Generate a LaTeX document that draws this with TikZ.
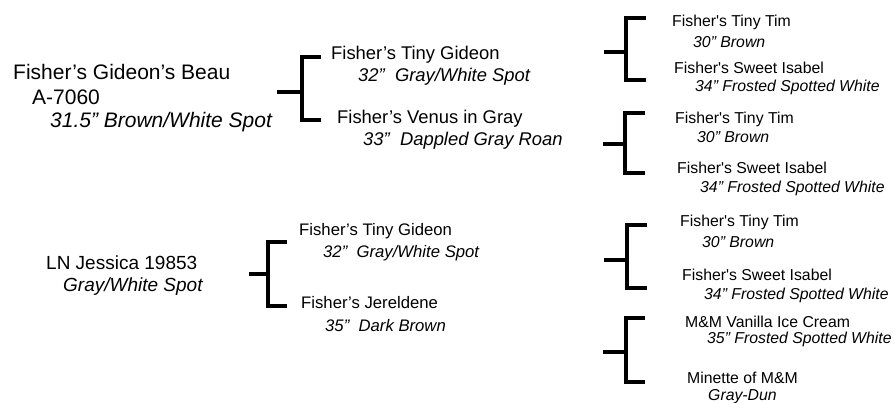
\documentclass[tikz,border=0pt]{standalone}
\usepackage{fontspec}
\setmainfont{Liberation Sans}
\tikzset{
    bar/.style={line width=3.6pt},
    horse/.style={anchor=west,inner sep=0pt},
    genA/.style={horse,font=\fontsize{21}{25}\selectfont},
    genB/.style={horse,font=\fontsize{19}{23}\selectfont},
    genC/.style={horse,font=\fontsize{18.4}{22}\selectfont},
    genD/.style={horse,font=\fontsize{16.7}{20}\selectfont},
    genE/.style={horse,font=\fontsize{15.8}{19}\selectfont},
    col/.style={execute at begin node=\itshape}
}
\newcommand{\pedbracket}[7]{%
    \coordinate (#1s) at (#2,#7);
    \coordinate (#1v) at (#3,#7);
    \coordinate (#1t) at (#4,#5);
    \coordinate (#1b) at (#4,#6);
    \draw[bar] (#1t) -- (#1t -| #1v) -- (#1b -| #1v) -- (#1b);
    \draw[bar] (#1s) -- (#1v);
}
\begin{document}
\begin{tikzpicture}[x=1pt,y=1pt]
    \useasboundingbox (0,0) rectangle (894,402);
    % sire and dam
    \node[genA] (sire) at (13,330) {Fisher’s Gideon’s Beau};
    \node[genA] (sireno) at (32,305) {A-7060};
    \node[genA,col] (sirecol) at (50,280) {31.5” Brown/White Spot};
    \node[genB] (dam) at (46,139) {LN Jessica 19853};
    \node[genB,col] (damcol) at (63,115) {Gray/White Spot};
    % grandparents
    \node[genC] (ss) at (331,347) {Fisher’s Tiny Gideon};
    \node[genC,col] (sscol) at (358,325) {32”~ Gray/White Spot};
    \node[genC] (sd) at (337,283) {Fisher’s Venus in Gray};
    \node[genC,col] (sdcol) at (363,261) {33”~ Dappled Gray Roan};
    \node[genD] (ds) at (299,171) {Fisher’s Tiny Gideon};
    \node[genD,col] (dscol) at (323,149) {32”~ Gray/White Spot};
    \node[genD] (dd) at (301,99) {Fisher’s Jereldene};
    \node[genD,col] (ddcol) at (325,76) {35”~ Dark Brown};
    % great-grandparents
    \node[genE] (sss) at (672,380) {Fisher\textquotesingle s Tiny Tim};
    \node[genE,col] (ssscol) at (693,360) {30” Brown};
    \node[genE] (ssd) at (674,334) {Fisher\textquotesingle s Sweet Isabel};
    \node[genE,col] (ssdcol) at (695,315) {34” Frosted Spotted White};
    \node[genE] (sds) at (675,283) {Fisher\textquotesingle s Tiny Tim};
    \node[genE,col] (sdscol) at (697,265) {30” Brown};
    \node[genE] (sdd) at (677,234) {Fisher\textquotesingle s Sweet Isabel};
    \node[genE,col] (sddcol) at (700,214) {34” Frosted Spotted White};
    \node[genE] (dss) at (680,180) {Fisher\textquotesingle s Tiny Tim};
    \node[genE,col] (dsscol) at (702,160) {30” Brown};
    \node[genE] (dsd) at (682,127) {Fisher\textquotesingle s Sweet Isabel};
    \node[genE,col] (dsdcol) at (704,107) {34” Frosted Spotted White};
    \node[genE] (dds) at (685,80) {M\&M Vanilla Ice Cream};
    \node[genE,col] (ddscol) at (707,63) {35” Frosted Spotted White};
    \node[genE] (ddd) at (687,24) {Minette of M\&M};
    \node[genE,col] (dddcol) at (708,5) {Gray-Dun};
    % brackets
    \pedbracket{s}{277}{302}{321}{345}{282}{310}
    \pedbracket{d}{249}{268}{287}{160}{96}{128}
    \pedbracket{ss}{604}{626}{646}{384}{322}{350}
    \pedbracket{sd}{603}{625}{645}{289}{229}{258}
    \pedbracket{ds}{604}{627}{647}{177}{114}{142}
    \pedbracket{dd}{603}{626}{645}{84}{20}{50}
\end{tikzpicture}
\end{document}
